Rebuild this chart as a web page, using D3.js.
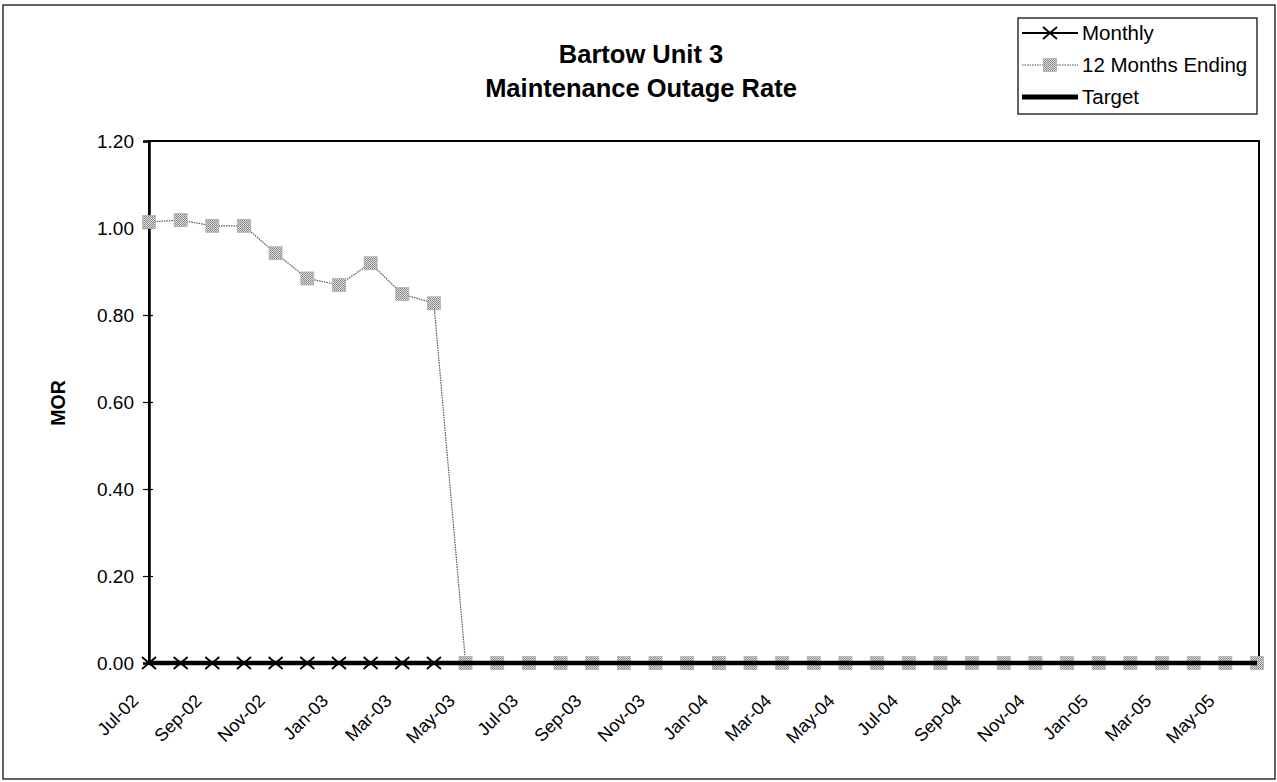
<!DOCTYPE html>
<html>
<head>
<meta charset="utf-8">
<script src="https://cdn.jsdelivr.net/npm/d3@7"></script>
<style>
  html, body { margin: 0; padding: 0; background: #fff; }
  svg { display: block; font-family: "Liberation Sans", Arial, sans-serif; }
</style>
</head>
<body>
<svg id="chart" width="1277" height="782"></svg>
<script>
const months = ["Jul-02","Aug-02","Sep-02","Oct-02","Nov-02","Dec-02","Jan-03","Feb-03","Mar-03","Apr-03","May-03","Jun-03",
                "Jul-03","Aug-03","Sep-03","Oct-03","Nov-03","Dec-03","Jan-04","Feb-04","Mar-04","Apr-04","May-04","Jun-04",
                "Jul-04","Aug-04","Sep-04","Oct-04","Nov-04","Dec-04","Jan-05","Feb-05","Mar-05","Apr-05","May-05","Jun-05"];
const monthly = [0,0,0,0,0,0,0,0,0,0,
                 null,null,null,null,null,null,null,null,null,null,null,null,null,null,null,null,null,null,null,null,null,null,null,null,null,null];
const twelveMonthsEnding = [1.014,1.018,1.005,1.005,0.942,0.884,0.869,0.919,0.848,0.827,
                 0,0,0,0,0,0,0,0,0,0,0,0,0,0,0,0,0,0,0,0,0,0,0,0,0,0];
const target = [0,0,0,0,0,0,0,0,0,0,0,0,0,0,0,0,0,0,0,0,0,0,0,0,0,0,0,0,0,0,0,0,0,0,0,0];
const yTickValues = [0,0.2,0.4,0.6,0.8,1.0,1.2];
const xTickLabels = months.filter((m, i) => i % 2 === 0);
const titleLines = ["Bartow Unit 3", "Maintenance Outage Rate"];
const yAxisTitle = "MOR";
const legendNames = ["Monthly", "12 Months Ending", "Target"];

const svg = d3.select("#chart");
const W = 1277, H = 782;
const plot = { left: 149, right: 1259, top: 141, bottom: 663 };

const x = d3.scalePoint().domain(months).range([plot.left, 1257]);
const y = d3.scaleLinear().domain([0, 1.2]).range([plot.bottom, plot.top]);

// pattern for dithered grey squares
const defs = svg.append("defs");
const pat = defs.append("pattern").attr("id", "dither").attr("patternUnits", "userSpaceOnUse")
  .attr("width", 2).attr("height", 2);
pat.append("rect").attr("width", 2).attr("height", 2).attr("fill", "#dcdcdc");
pat.append("rect").attr("width", 1).attr("height", 1).attr("fill", "#808080");
pat.append("rect").attr("x", 1).attr("y", 1).attr("width", 1).attr("height", 1).attr("fill", "#949494");

// outer chart border
svg.append("rect").attr("x", 3).attr("y", 5).attr("width", W - 5).attr("height", H - 8)
  .attr("fill", "none").attr("stroke", "#000").attr("stroke-width", 1.2);

// title
svg.append("text").attr("x", 641).attr("y", 63).attr("text-anchor", "middle")
  .attr("font-size", 25.5).attr("font-weight", "bold").text(titleLines[0]);
svg.append("text").attr("x", 641).attr("y", 96.5).attr("text-anchor", "middle")
  .attr("font-size", 25.5).attr("font-weight", "bold").text(titleLines[1]);

// plot area border
svg.append("rect").attr("x", plot.left).attr("y", plot.top)
  .attr("width", plot.right - plot.left).attr("height", plot.bottom - plot.top)
  .attr("fill", "none").attr("stroke", "#000").attr("stroke-width", 2);

// y axis
const yAxis = d3.axisLeft(y).tickValues(yTickValues).tickFormat(d3.format(".2f")).tickSize(6).tickPadding(9);
const gy = svg.append("g").attr("transform", `translate(${plot.left},0)`).call(yAxis);
gy.select(".domain").attr("stroke-width", 2.5);
gy.selectAll(".tick line").attr("stroke-width", 1.2);
gy.selectAll(".tick").append("line").attr("x1", 0).attr("x2", 4).attr("stroke", "#000").attr("stroke-width", 1.2);
gy.selectAll(".tick text").attr("font-size", 19).attr("font-family", "Liberation Sans, Arial, sans-serif").attr("fill", "#000");

// y axis title
svg.append("text").attr("transform", "translate(65,403) rotate(-90)").attr("text-anchor", "middle")
  .attr("font-size", 19.5).attr("font-weight", "bold").text(yAxisTitle);

// x axis
const xAxis = d3.axisBottom(x).tickValues(xTickLabels).tickSize(0).tickPadding(0);
const gx = svg.append("g").attr("transform", `translate(0,${plot.bottom})`).call(xAxis);
gx.select(".domain").remove();
gx.selectAll(".tick text")
  .attr("font-size", 18).attr("font-family", "Liberation Sans, Arial, sans-serif").attr("fill", "#000")
  .attr("text-anchor", "end").attr("y", 0).attr("dy", 0)
  .attr("transform", "translate(-10,39) rotate(-45)");

// series data
const lineGen = d3.line().defined(d => d.v != null).x(d => x(d.m)).y(d => y(d.v));
const monthlyData = months.map((m, i) => ({ m, v: monthly[i] }));
const twelveData = months.map((m, i) => ({ m, v: twelveMonthsEnding[i] }));
const targetData = months.map((m, i) => ({ m, v: target[i] }));

const xMark = (g, cx, cy, s) => {
  g.append("path").attr("d", `M${cx - s},${cy - s * 0.85}L${cx + s},${cy + s * 0.85}M${cx - s},${cy + s * 0.85}L${cx + s},${cy - s * 0.85}`)
    .attr("stroke", "#000").attr("stroke-width", 1.8).attr("fill", "none");
};

// Monthly
svg.append("path").datum(monthlyData).attr("d", lineGen)
  .attr("fill", "none").attr("stroke", "#000").attr("stroke-width", 2.5);
const gm = svg.append("g");
monthlyData.filter(d => d.v != null).forEach(d => xMark(gm, x(d.m), y(d.v), 7));

// 12 Months Ending
svg.append("path").datum(twelveData).attr("d", lineGen)
  .attr("fill", "none").attr("stroke", "#555").attr("stroke-width", 1.2).attr("stroke-dasharray", "1.5,1");
svg.append("g").selectAll("rect").data(twelveData.filter(d => d.v != null)).join("rect")
  .attr("x", d => x(d.m) - 6.5).attr("y", d => y(d.v) - 6.5).attr("width", 13).attr("height", 13)
  .attr("fill", "url(#dither)").attr("stroke", "#b0b0b0").attr("stroke-width", 0.8);

// Target
svg.append("path").datum(targetData).attr("d", lineGen)
  .attr("fill", "none").attr("stroke", "#000").attr("stroke-width", 4.5);

// legend
const lg = svg.append("g");
lg.append("rect").attr("x", 1018).attr("y", 18).attr("width", 239).attr("height", 96)
  .attr("fill", "#fff").attr("stroke", "#000").attr("stroke-width", 1.2);
const rowsY = [33, 65, 97];
lg.append("line").attr("x1", 1022).attr("x2", 1078).attr("y1", rowsY[0]).attr("y2", rowsY[0]).attr("stroke", "#000").attr("stroke-width", 2);
xMark(lg, 1050, rowsY[0], 7);
lg.append("line").attr("x1", 1022).attr("x2", 1078).attr("y1", rowsY[1]).attr("y2", rowsY[1]).attr("stroke", "#555").attr("stroke-width", 1.2).attr("stroke-dasharray", "1.5,1");
lg.append("rect").attr("x", 1050 - 6.5).attr("y", rowsY[1] - 6.5).attr("width", 13).attr("height", 13)
  .attr("fill", "url(#dither)").attr("stroke", "#b0b0b0").attr("stroke-width", 0.8);
lg.append("line").attr("x1", 1022).attr("x2", 1078).attr("y1", rowsY[2]).attr("y2", rowsY[2]).attr("stroke", "#000").attr("stroke-width", 5);
lg.selectAll("text.lt").data(legendNames).join("text").attr("class", "lt")
  .attr("x", 1082).attr("y", (d, i) => rowsY[i]).attr("dy", "0.35em")
  .attr("font-size", 20.5).text(d => d);
</script>
</body>
</html>
